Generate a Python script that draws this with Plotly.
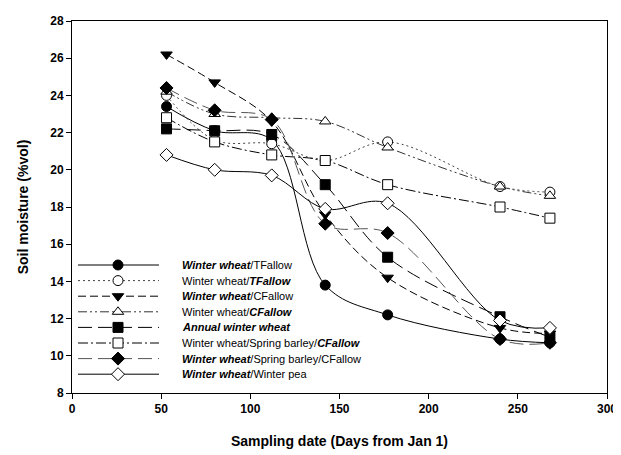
import plotly.graph_objects as go

days = [53, 80, 112, 142, 177, 240, 268]

ww_tfallow = [23.4, 22.1, 21.6, 13.8, 12.2, 10.9, 10.7]
ww_tfallow_fallow = [24.0, 21.6, 21.4, 20.5, 21.5, 19.1, 18.8]
ww_cfallow = [26.2, 24.7, 22.6, 17.6, 14.2, 11.5, 11.2]
ww_cfallow_fallow = [24.2, 23.0, 22.8, 22.6, 21.2, 19.1, 18.6]
annual_ww = [22.2, 22.1, 21.9, 19.2, 15.3, 12.1, 11.0]
ww_sb_cfallow_fallow = [22.8, 21.5, 20.8, 20.5, 19.2, 18.0, 17.4]
ww_sb_cfallow = [24.4, 23.2, 22.7, 17.1, 16.6, 10.9, 10.7]
ww_pea = [20.8, 20.0, 19.7, 17.9, 18.2, 11.9, 11.5]

BI = lambda s: "<b><i>" + s + "</i></b>"

series = [
    (BI("Winter wheat") + "/TFallow", ww_tfallow, "circle", "black", "solid", "black"),
    ("Winter wheat/" + BI("TFallow"), ww_tfallow_fallow, "circle", "white", "2px,3px", "#444"),
    (BI("Winter wheat") + "/CFallow", ww_cfallow, "triangle-down", "black", "8px,4px", "black"),
    ("Winter wheat/" + BI("CFallow"), ww_cfallow_fallow, "triangle-up", "white",
     "9px,3px,2px,3px,2px,3px", "#333"),
    (BI("Annual winter wheat"), annual_ww, "square", "black", "14px,6px", "black"),
    ("Winter wheat/Spring barley/" + BI("CFallow"), ww_sb_cfallow_fallow, "square", "white",
     "10px,3px,2px,3px", "black"),
    (BI("Winter wheat") + "/Spring barley/CFallow", ww_sb_cfallow, "diamond", "black",
     "14px,6px", "#555"),
    (BI("Winter wheat") + "/Winter pea", ww_pea, "diamond", "white", "solid", "black"),
]

FONT = "Liberation Sans, Arial"

fig = go.Figure()
for name, vals, sym, fill, dash, lc in series:
    fig.add_trace(go.Scatter(
        x=days, y=vals, name=name, mode="lines+markers", showlegend=False,
        line=dict(color=lc, width=1, dash=dash, shape="spline", smoothing=1.0),
        marker=dict(symbol=sym, size=10, color=fill,
                    line=dict(color="black", width=1)),
    ))

# hand-made legend on an overlay axis measured in pixels of the plot area
row0, row_gap = 244, 15.6
for i, (name, vals, sym, fill, dash, lc) in enumerate(series):
    ry = row0 + i * row_gap
    fig.add_trace(go.Scatter(
        x=[6, 87], y=[ry, ry], mode="lines", xaxis="x2", yaxis="y2",
        showlegend=False, hoverinfo="skip",
        line=dict(color=lc, width=1, dash=dash),
    ))
    fig.add_trace(go.Scatter(
        x=[46], y=[ry], mode="markers", xaxis="x2", yaxis="y2",
        showlegend=False, hoverinfo="skip",
        marker=dict(symbol=sym, size=10, color=fill,
                    line=dict(color="black", width=1)),
    ))
    fig.add_annotation(x=108, y=ry, xref="x2", yref="y2", text=name,
                       showarrow=False, xanchor="left", yanchor="middle",
                       font=dict(family=FONT, size=11, color="black"))

axis_common = dict(
    showline=True, linecolor="black", linewidth=1, mirror=True,
    ticks="outside", ticklen=5, tickcolor="black",
    showgrid=False, zeroline=False, automargin=False,
    tickfont=dict(family=FONT, size=12, color="black", weight="bold"),
)

fig.update_xaxes(
    range=[0, 300], tickvals=[0, 50, 100, 150, 200, 250, 300],
    title=dict(text="<b>Sampling date (Days from Jan 1)</b>", standoff=20,
               font=dict(family=FONT, size=14, color="black")),
    **axis_common
)
fig.update_yaxes(
    range=[8, 28], tickvals=list(range(8, 29, 2)),
    title=dict(text="<b>Soil moisture (%vol)</b>", standoff=18,
               font=dict(family=FONT, size=14, color="black")),
    **axis_common
)

fig.update_layout(
    width=621, height=455,
    margin=dict(l=64, r=22, t=13, b=70),
    paper_bgcolor="white", plot_bgcolor="white",
    font=dict(family=FONT, size=11, color="black"),
    xaxis2=dict(overlaying="x", anchor="y2", range=[0, 535], visible=False),
    yaxis2=dict(overlaying="y", anchor="x2", range=[372, 0], visible=False),
)

fig.write_html("out.html")
